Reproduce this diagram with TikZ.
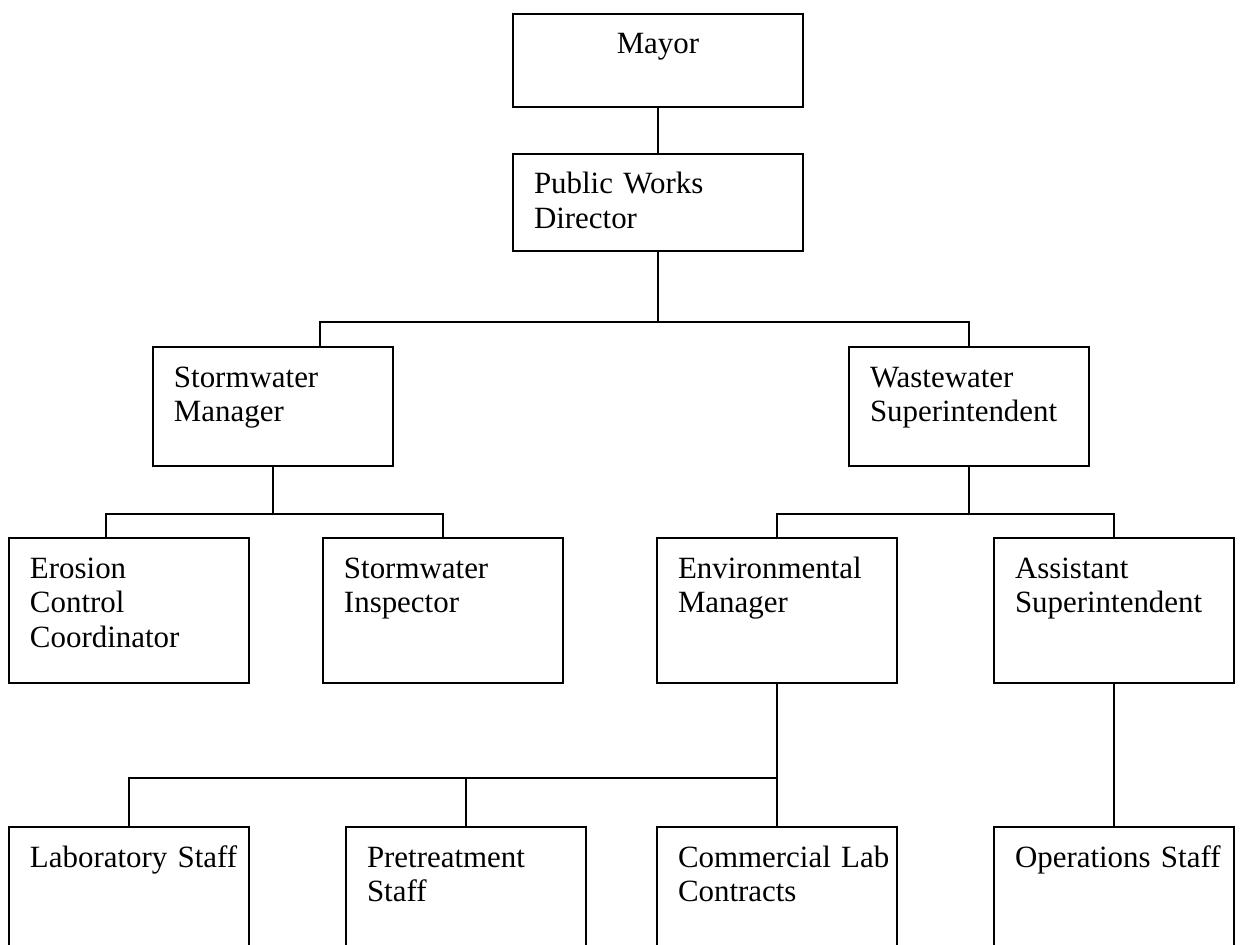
\documentclass[tikz,border=0pt]{standalone}
\usepackage{fontspec}
\setmainfont{Liberation Serif}
\begin{document}
\begin{tikzpicture}[x=0.02cm,y=-0.02cm,
    orgbox/.style={draw, line width=1pt, anchor=north west, outer sep=0pt,
        align=left, inner xsep=0.42cm, inner ysep=0pt, text width=3.96cm,
        text height=0.8cm, font=\fontsize{17.6}{19.9}\selectfont},
    topbox/.style={orgbox, text width=4.96cm},
    link/.style={line width=1pt}]
    \useasboundingbox (0,0) rectangle (1258,944);
    \clip (0,0) rectangle (1258,944);
    % top of the chart
    \node[topbox, align=center, text depth=1.06cm] (mayor) at (513,14) {Mayor};
    \node[topbox, text depth=1.14cm] (pwd) at (513,154) {Public Works\\Director};
    \node[orgbox, text depth=1.58cm] (stormmgr) at (153,347) {Stormwater\\Manager};
    \node[orgbox, text depth=1.58cm] (wwsupt) at (849,347) {Wastewater\\Superintendent};
    % third row
    \node[orgbox, text depth=2.1cm] (erosion) at (9,538) {Erosion\\Control\\Coordinator};
    \node[orgbox, text depth=2.1cm] (swinsp) at (323,538) {Stormwater\\Inspector};
    \node[orgbox, text depth=2.1cm] (envmgr) at (657,538) {Environmental\\Manager};
    \node[orgbox, text depth=2.1cm] (asstsupt) at (994,538) {Assistant\\Superintendent};
    % bottom row, cut by the page edge
    \node[orgbox, text depth=2.6cm] (labstaff) at (9,827) {Laboratory~Staff};
    \node[orgbox, text depth=2.6cm] (pretreat) at (346,827) {Pretreatment\\Staff};
    \node[orgbox, text depth=2.6cm] (commlab) at (657,827) {Commercial~Lab\\Contracts};
    \node[orgbox, text depth=2.6cm] (opstaff) at (994,827) {Operations~Staff};
    % connectors
    \draw[link] (mayor.south) -- (pwd.north);
    \draw[link] (pwd.south) -- ++(0,71) -| (wwsupt.north);
    \draw[link] (pwd.south) ++(0,71) -| ([xshift=0.94cm]stormmgr.north);
    \draw[link] (stormmgr.south) -- ++(0,48) -| ([xshift=-0.46cm]erosion.north);
    \draw[link] (stormmgr.south) ++(0,48) -| (swinsp.north);
    \draw[link] (wwsupt.south) -- ++(0,48) -| (envmgr.north);
    \draw[link] (wwsupt.south) ++(0,48) -| (asstsupt.north);
    \draw[link] (envmgr.south) -- (commlab.north);
    \draw[link] (envmgr.south) ++(0,95) -| (labstaff.north);
    \draw[link] (envmgr.south) ++(0,95) -| (pretreat.north);
    \draw[link] (asstsupt.south) -- (opstaff.north);
\end{tikzpicture}
\end{document}
